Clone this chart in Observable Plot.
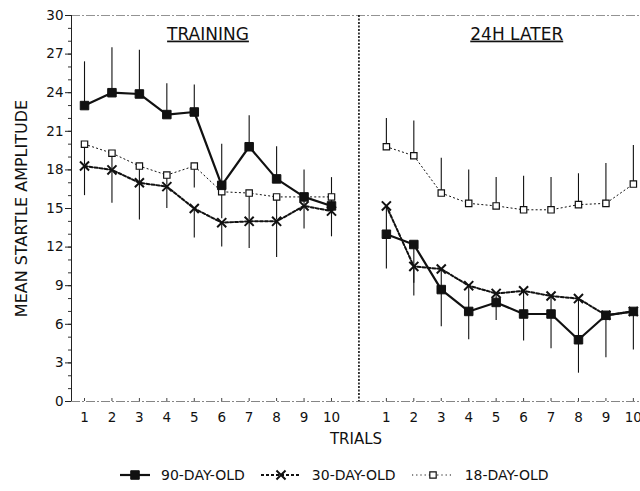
<!DOCTYPE html>
<html><head><meta charset="utf-8">
<script src="https://cdn.jsdelivr.net/npm/d3@7"></script>
<script src="https://cdn.jsdelivr.net/npm/@observablehq/plot@0.6"></script>
<style>
body{margin:0;background:#fff;font-family:"DejaVu Sans",sans-serif;color:#111;}
#legend{display:flex;align-items:center;justify-content:flex-start;margin-top:12px;padding-left:120px;font-size:14px;height:16px;line-height:16px;}
#legend .item{display:flex;align-items:center;}
#legend svg{display:block;}
</style></head><body><div id="chart"></div><div id="legend"></div>
<script>
const trials = [1,2,3,4,5,6,7,8,9,10];
const seriesNames = ["90-DAY-OLD","30-DAY-OLD","18-DAY-OLD"];
const panelNames = ["TRAINING","24H LATER"];
// Training session
const training90    = [23.0,24.0,23.9,22.3,22.5,16.8,19.8,17.3,15.9,15.2];
const training90End = [26.4,27.5,27.3,24.7,24.6,20.0,22.2,19.8,18.0,17.4];
const training30    = [18.3,18.0,17.0,16.7,15.0,13.9,14.0,14.0,15.2,14.8];
const training30End = [16.0,15.4,14.1,15.0,12.7,12.0,11.9,11.2,13.4,12.8];
const training18    = [20.0,19.3,18.3,17.6,18.3,16.3,16.2,15.9,15.9,15.9];
const training18End = [18.4,18.1,17.1,16.8,16.6,14.2,14.1,14.1,15.3,15.0];
// 24 h later
const later90    = [13.0,12.2,8.7,7.0,7.7,6.8,6.8,4.8,6.7,7.0];
const later90End = [10.3,8.2,5.8,4.8,6.3,4.7,4.1,2.2,3.4,4.0];
const later30    = [15.2,10.5,10.3,9.0,8.4,8.6,8.2,8.0,6.7,7.0];
const later30End = [13.1,9.2,8.8,7.1,7.8,6.9,6.9,4.9,6.5,6.8];
const later18    = [19.8,19.1,16.2,15.4,15.2,14.9,14.9,15.3,15.4,16.9];
const later18End = [22.0,21.8,18.9,18.0,17.4,17.5,17.4,17.7,18.5,19.9];
const yTicks = [0,3,6,9,12,15,18,21,24,27,30];

const panelOffset = {"TRAINING":0, "24H LATER":11};
const rows = [];
function add(panel, series, values, ends){
  values.forEach((v,i)=>rows.push({panel, series, trial:trials[i], pos:trials[i]+panelOffset[panel], value:v, end:ends[i]}));
}
add("TRAINING","90-DAY-OLD",training90,training90End);
add("TRAINING","30-DAY-OLD",training30,training30End);
add("TRAINING","18-DAY-OLD",training18,training18End);
add("24H LATER","90-DAY-OLD",later90,later90End);
add("24H LATER","30-DAY-OLD",later30,later30End);
add("24H LATER","18-DAY-OLD",later18,later18End);

const xTicks = [];
const xTickLabel = new Map();
panelNames.forEach(p=>trials.forEach(t=>{xTicks.push(t+panelOffset[p]); xTickLabel.set(t+panelOffset[p], String(t));}));
const xDomain = [0.526, 21.26];

const style = {
  "90-DAY-OLD": {strokeWidth:2.2, dash:null, symbol:"square", r:4.8, fill:"#111", sw:1},
  "30-DAY-OLD": {strokeWidth:2, dash:"3,2", symbol:"times", r:4.2, fill:"none", sw:2},
  "18-DAY-OLD": {strokeWidth:1, dash:"1.2,3", symbol:"square", r:3.6, fill:"#fff", sw:1.2}
};

const marks = [
  Plot.ruleY([30], {stroke:"#777", strokeWidth:0.8, strokeDasharray:"9,2,2,2"}),
  Plot.ruleY([0], {stroke:"#666", strokeWidth:0.8, strokeDasharray:"9,2,2,2"}),
  Plot.ruleX([11], {stroke:"#111", strokeWidth:1.6, strokeDasharray:"2,1.5"}),
  Plot.ruleX([xDomain[0]], {stroke:"#222", strokeWidth:1}),
  Plot.axisY({ticks:d3.range(0,31,1), tickSize:3, tickFormat:()=>"", label:null, stroke:"#333"}),
  Plot.axisY({ticks:yTicks, tickSize:6, tickPadding:2, fontSize:13.5, label:"MEAN STARTLE AMPLITUDE", labelAnchor:"center", labelOffset:56, labelArrow:"none", stroke:"#222"}),
  Plot.axisX({ticks:xTicks, tickSize:0, tickPadding:11, fontSize:13.5, tickFormat:d=>xTickLabel.get(d), label:"TRIALS", labelAnchor:"center", labelOffset:42, labelArrow:"none"}),
  Plot.axisX({ticks:xTicks, tickSize:-3, tickFormat:()=>"", label:null, stroke:"#444"}),
  Plot.ruleX(rows, {x:"pos", y1:"value", y2:"end", stroke:"#111", strokeWidth:1.1})
];
["18-DAY-OLD","30-DAY-OLD","90-DAY-OLD"].forEach(s=>{
  const st = style[s];
  marks.push(Plot.line(rows.filter(d=>d.series===s), {x:"pos", y:"value", z:"panel", stroke:"#111", strokeWidth:st.strokeWidth, strokeDasharray:st.dash}));
});
["18-DAY-OLD","30-DAY-OLD","90-DAY-OLD"].forEach(s=>{
  const st = style[s];
  marks.push(Plot.dot(rows.filter(d=>d.series===s), {x:"pos", y:"value", symbol:()=>st.symbol, r:st.r, fill:st.fill, stroke:"#111", strokeWidth:st.sw}));
});
const titles = [{text:"TRAINING", pos:5.5},{text:"24H LATER", pos:16.75}];
marks.push(Plot.text(titles, {x:"pos", text:"text", frameAnchor:"top", dy:12, fontSize:17, fill:"#111"}));

const chart = Plot.plot({
  width:640, height:455,
  marginLeft:71, marginRight:0, marginTop:15, marginBottom:54,
  style:{fontFamily:"DejaVu Sans, sans-serif", color:"#111", background:"#fff"},
  x:{domain:xDomain},
  y:{domain:[0,30]},
  symbol:{type:"identity"},
  marks
});
document.getElementById("chart").appendChild(chart);
const svg = d3.select(chart);
svg.selectAll('g[aria-label="text"] text').attr("text-decoration","underline");
svg.selectAll('g[aria-label="y-axis label"] text').attr("font-size",16);
svg.selectAll('g[aria-label="x-axis label"] text').attr("font-size",15);

// legend
const legend = d3.select("#legend");
const legendWidths = {"90-DAY-OLD":30, "30-DAY-OLD":40, "18-DAY-OLD":42};
seriesNames.forEach((s,i)=>{
  const st = style[s];
  const w = legendWidths[s];
  const item = legend.append("div").attr("class","item").style("margin-right", (i<2?16:0)+"px");
  const sv = item.append("svg").attr("width",w).attr("height",12);
  sv.append("line").attr("x1",0).attr("x2",w).attr("y1",6).attr("y2",6).attr("stroke","#111").attr("stroke-width",st.strokeWidth).attr("stroke-dasharray",st.dash);
  const sym = st.symbol==="times" ? d3.symbolTimes : d3.symbolSquare;
  sv.append("path").attr("transform",`translate(${w/2},6)`).attr("d", d3.symbol(sym, st.r*st.r*Math.PI)()).attr("fill",st.fill).attr("stroke","#111").attr("stroke-width",st.sw);
  item.append("span").style("margin-left","11px").text(s);
});
</script></body></html>
